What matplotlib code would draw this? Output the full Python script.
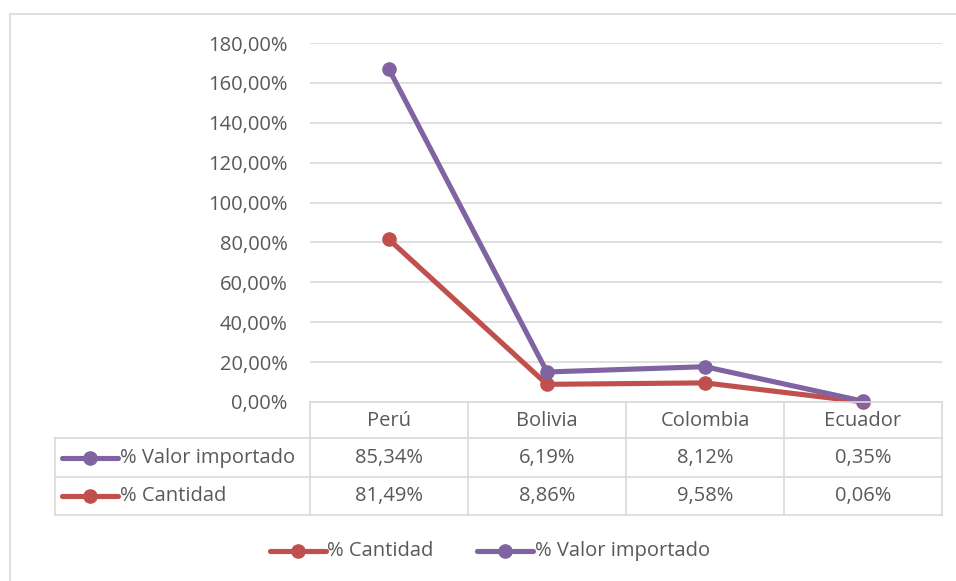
import matplotlib.pyplot as plt
from matplotlib.lines import Line2D
from matplotlib.patches import Rectangle

paises = ['Perú', 'Bolivia', 'Colombia', 'Ecuador']
valor_importado = [85.34, 6.19, 8.12, 0.35]
cantidad = [81.49, 8.86, 9.58, 0.06]
valor_txt = ['85,34%', '6,19%', '8,12%', '0,35%']
cantidad_txt = ['81,49%', '8,86%', '9,58%', '0,06%']

ROJO = '#C0504D'
MORADO = '#8064A2'
GRIS = '#595959'
BORDE = '#D9D9D9'
FS = 14.5
LW = 3.7
MS = 9.5

plt.rcParams['font.family'] = ['Open Sans', 'DejaVu Sans']

W, H = 956, 581
fig = plt.figure(figsize=(W / 100, H / 100), dpi=100)


def fx(px):
    return px / W


def fy(py):
    return 1 - py / H


# marco exterior
fig.patches.append(Rectangle((fx(10), fy(600)), fx(960) - fx(10), fy(14) - fy(600),
                             transform=fig.transFigure, fill=False, ec=BORDE, lw=1.2))

x0, x1, ytop, ybot = 310, 942, 43, 402
ax = fig.add_axes([fx(x0), fy(ybot), fx(x1) - fx(x0), fy(ytop) - fy(ybot)])
ax.set_xlim(-0.5, 3.5)
ax.set_ylim(0, 180)
ax.set_yticks(range(0, 181, 20))
ax.set_yticklabels(['%d,00%%' % v for v in range(0, 181, 20)])
ax.tick_params(axis='y', length=0, pad=16, labelsize=FS, labelcolor=GRIS)
ax.set_xticks([])
for s in ax.spines.values():
    s.set_visible(False)
ax.grid(axis='y', color=BORDE, lw=1.2)
ax.set_axisbelow(True)

# lineas apiladas
apilado = [c + v for c, v in zip(cantidad, valor_importado)]
xs = range(len(paises))
ax.plot(xs, cantidad, color=ROJO, lw=LW, marker='o', ms=MS, solid_capstyle='round', clip_on=False)
ax.plot(xs, apilado, color=MORADO, lw=LW, marker='o', ms=MS, solid_capstyle='round', clip_on=False)

# tabla de datos
col_w = (x1 - x0) / 4
filas = [402, 438, 477, 515]
lx = 55
for i in range(5):
    xx = x0 + i * col_w
    fig.add_artist(Line2D([fx(xx), fx(xx)], [fy(filas[0]), fy(filas[3])], color=BORDE, lw=1.2))
fig.add_artist(Line2D([fx(lx), fx(lx)], [fy(filas[1]), fy(filas[3])], color=BORDE, lw=1.2))
for j, yy in enumerate(filas):
    xa = x0 if j == 0 else lx
    fig.add_artist(Line2D([fx(xa), fx(x1)], [fy(yy), fy(yy)], color=BORDE, lw=1.2))

tk = dict(ha='center', va='center', fontsize=FS, color=GRIS)
for i, p in enumerate(paises):
    cx = x0 + (i + 0.5) * col_w
    fig.text(fx(cx), fy(421), p, **tk)
    fig.text(fx(cx), fy(458), valor_txt[i], **tk)
    fig.text(fx(cx), fy(496), cantidad_txt[i], **tk)


def muestra(px, py, color):
    fig.add_artist(Line2D([fx(px), fx(px + 56)], [fy(py), fy(py)], color=color, lw=LW,
                          solid_capstyle='round'))
    fig.add_artist(Line2D([fx(px + 28)], [fy(py)], color=color, marker='o', ms=MS, lw=0))


muestra(62, 458, MORADO)
fig.text(fx(120), fy(458), '% Valor importado', ha='left', va='center', fontsize=FS, color=GRIS)
muestra(62, 496, ROJO)
fig.text(fx(120), fy(496), '% Cantidad', ha='left', va='center', fontsize=FS, color=GRIS)

# leyenda inferior
muestra(270, 551, ROJO)
fig.text(fx(327), fy(551), '% Cantidad', ha='left', va='center', fontsize=FS, color=GRIS)
muestra(477, 551, MORADO)
fig.text(fx(535), fy(551), '% Valor importado', ha='left', va='center', fontsize=FS, color=GRIS)

fig.savefig('out.png', dpi=100)
